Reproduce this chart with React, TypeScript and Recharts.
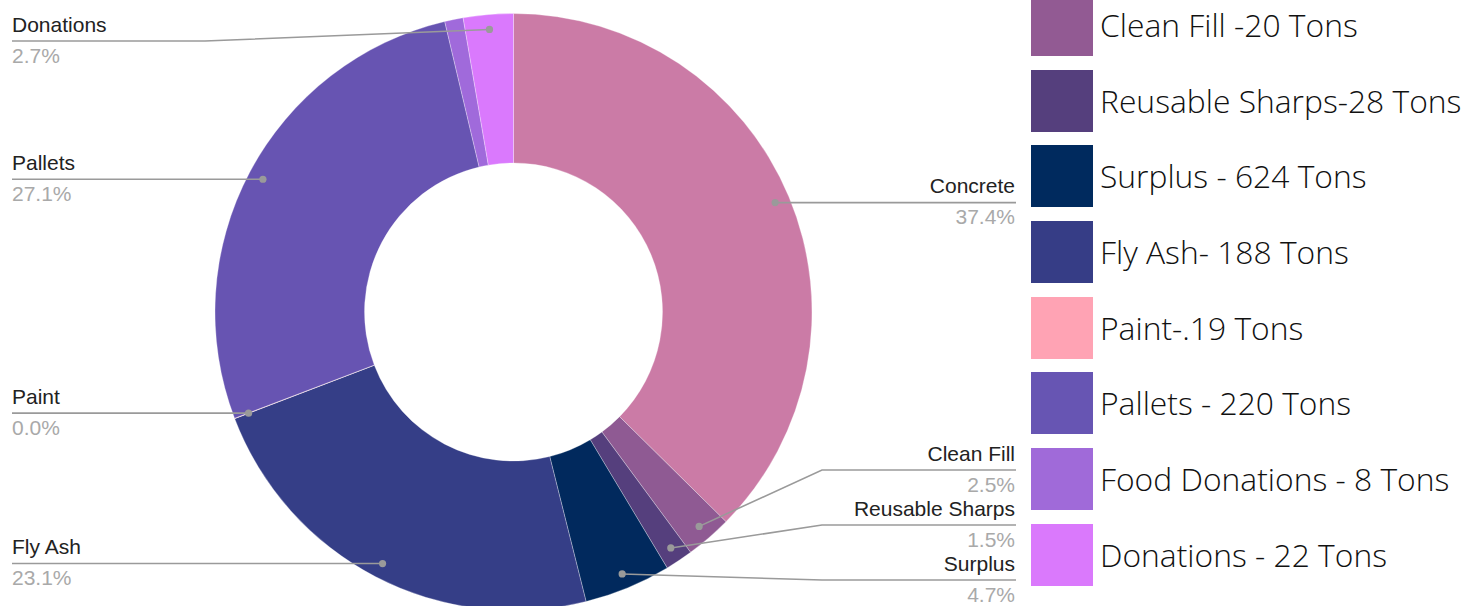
import React from 'react';
import { PieChart, Pie, Cell } from 'recharts';

const categories = ['Concrete', 'Clean Fill', 'Reusable Sharps', 'Surplus', 'Fly Ash', 'Paint', 'Pallets', 'Food Donations', 'Donations'];
const shares = [37.4, 2.5, 1.5, 4.7, 23.1, 0.02, 27.1, 1.0, 2.7];
const sliceColors = ['#CB7BA6', '#8F5A93', '#553F7D', '#01295D', '#353E87', '#FFA2B4', '#6754B2', '#A06ADB', '#DA79FD'];
const unlabeled = ['Food Donations'];

const legendLabels = [
  'Clean Fill -20 Tons',
  'Reusable Sharps-28 Tons',
  'Surplus - 624 Tons',
  'Fly Ash- 188 Tons',
  'Paint-.19 Tons',
  'Pallets - 220 Tons',
  'Food Donations - 8 Tons',
  'Donations - 22 Tons',
];
const legendColors = ['#925A93', '#553F7D', '#002A5E', '#363D86', '#FFA3B4', '#6755B3', '#A06AD9', '#DA79FC'];

const data = categories.map((name, i) => ({ name, value: shares[i] }));

const W = 1484;
const H = 606;
const CX = 513.5;
const CY = 312;
const R_OUT = 298.5;
const R_IN = 149;
const RAD = Math.PI / 180;
const LEFT_X = 12;
const RIGHT_X = 1016;
const GAP = 55;
const MIN_Y = 41;
const MAX_Y = 580;

type Item = { name: string; dotX: number; dotY: number; right: boolean; pct: string; y: number };

function resolveSide(items: Item[]) {
  items.sort((a, b) => a.dotY - b.dotY);
  let clusters = items.map((it) => ({ members: [it], top: it.dotY }));
  const place = (c: { members: Item[]; top: number }) => {
    const n = c.members.length;
    const mean = c.members.reduce((s, m) => s + m.dotY, 0) / n;
    let top = mean - ((n - 1) * GAP) / 2;
    top = Math.max(MIN_Y, Math.min(MAX_Y - (n - 1) * GAP, top));
    c.top = top;
  };
  let changed = true;
  while (changed) {
    changed = false;
    clusters.forEach(place);
    for (let i = 0; i < clusters.length - 1; i++) {
      const a = clusters[i];
      const b = clusters[i + 1];
      const bottomA = a.top + (a.members.length - 1) * GAP;
      if (bottomA + GAP > b.top + 0.001) {
        clusters = [...clusters.slice(0, i), { members: [...a.members, ...b.members], top: 0 }, ...clusters.slice(i + 2)];
        changed = true;
        break;
      }
    }
  }
  clusters.forEach((c) => c.members.forEach((m, k) => (m.y = c.top + k * GAP)));
}

function computeLayout(cx: number, cy: number, r: number) {
  const total = shares.reduce((a, b) => a + b, 0);
  let acc = 0;
  const all: Item[] = categories.map((name, i) => {
    const start = acc;
    acc += shares[i];
    const mid = ((start + shares[i] / 2) / total) * 360;
    const dx = Math.sin(mid * RAD);
    const dy = -Math.cos(mid * RAD);
    return {
      name,
      dotX: cx + r * 0.95 * dx,
      dotY: cy + r * 0.95 * dy,
      right: dx >= 0,
      pct: ((shares[i] / total) * 100).toFixed(1) + '%',
      y: 0,
    };
  });
  const shown = all.filter((it) => !unlabeled.includes(it.name));
  resolveSide(shown.filter((it) => it.right));
  resolveSide(shown.filter((it) => !it.right));
  const map: Record<string, Item> = {};
  shown.forEach((it) => (map[it.name] = it));
  return map;
}

const renderLabel = (props: any) => {
  const { cx, cy, outerRadius, name, midAngle } = props;
  const layout = computeLayout(cx, cy, outerRadius);
  const it = layout[name];
  if (!it) return null;
  const dotX = cx + outerRadius * 0.95 * Math.cos(-midAngle * RAD);
  const dotY = cy + outerRadius * 0.95 * Math.sin(-midAngle * RAD);
  const elbowX = it.right ? cx + outerRadius + 10 : cx - outerRadius - 10;
  const endX = it.right ? RIGHT_X : LEFT_X;
  const pts = `${dotX},${dotY} ${elbowX},${it.y} ${endX},${it.y}`;
  const anchor = it.right ? 'end' : 'start';
  const tx = it.right ? RIGHT_X - 1 : LEFT_X;
  return (
    <g key={`lbl-${name}`}>
      <polyline points={pts} fill="none" stroke="#9a9a9a" strokeWidth={1.6} />
      <circle cx={dotX} cy={dotY} r={3.6} fill="#9a9a9a" />
      <text x={tx} y={it.y - 9.5} textAnchor={anchor} fontFamily="'Liberation Sans', Arial, sans-serif" fontSize={21} fill="#222222">
        {name}
      </text>
      <text x={tx} y={it.y + 21.5} textAnchor={anchor} fontFamily="'Liberation Sans', Arial, sans-serif" fontSize={21} fill="#a9a9a9">
        {it.pct}
      </text>
    </g>
  );
};

export default function App() {
  return (
    <div style={{ position: 'absolute', left: 0, top: 0, width: W, height: H, overflow: 'hidden', background: '#ffffff' }}>
      <PieChart width={W} height={H} margin={{ top: 0, right: 0, bottom: 0, left: 0 }}>
        <Pie
          data={data}
          dataKey="value"
          nameKey="name"
          cx={CX}
          cy={CY}
          innerRadius={R_IN}
          outerRadius={R_OUT}
          startAngle={90}
          endAngle={-270}
          stroke="#ffffff"
          strokeWidth={0.6}
          strokeOpacity={0.5}
          label={renderLabel}
          labelLine={false}
          isAnimationActive={false}
        >
          {data.map((d, i) => (
            <Cell key={d.name} fill={sliceColors[i]} />
          ))}
        </Pie>
      </PieChart>
      <div style={{ position: 'absolute', left: 1031, top: -6 }}>
        {legendLabels.map((label, i) => (
          <div key={label} style={{ display: 'flex', alignItems: 'center', height: 62, marginBottom: 13.7 }}>
            <div style={{ width: 62, height: 62, background: legendColors[i], flex: 'none' }} />
            <div
              style={{
                marginLeft: 7,
                fontFamily: "'Open Sans', sans-serif",
                fontWeight: 300,
                fontSize: 31.8,
                color: '#111111',
                whiteSpace: 'nowrap',
                lineHeight: '62px',
              }}
            >
              {label}
            </div>
          </div>
        ))}
      </div>
    </div>
  );
}
